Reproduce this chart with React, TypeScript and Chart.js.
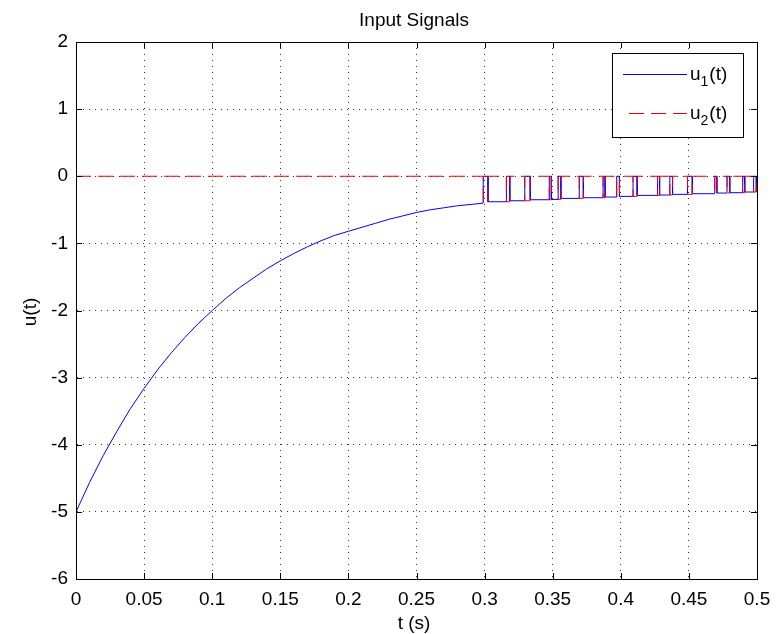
import React, { useEffect, useRef } from "react";
import { Chart, registerables } from "chart.js";

Chart.register(...registerables);

const FONT = '"Liberation Sans", Arial, sans-serif';

const xTickValues = [0, 0.05, 0.1, 0.15, 0.2, 0.25, 0.3, 0.35, 0.4, 0.45, 0.5];
const xTickLabels = ["0", "0.05", "0.1", "0.15", "0.2", "0.25", "0.3", "0.35", "0.4", "0.45", "0.5"];
const yTickValues = [-6, -5, -4, -3, -2, -1, 0, 1, 2];
const yTickLabels = ["-6", "-5", "-4", "-3", "-2", "-1", "0", "1", "2"];

// smooth part of u1(t)
const curveT = [0, 0.01, 0.02, 0.03, 0.04, 0.05, 0.06, 0.07, 0.08, 0.09, 0.1, 0.11, 0.12, 0.13, 0.14, 0.15, 0.16, 0.17, 0.18, 0.19, 0.2, 0.21, 0.22, 0.23, 0.24, 0.25, 0.26, 0.27, 0.28, 0.29];
const curveU1 = [-5.0, -4.56, -4.16, -3.8, -3.46, -3.16, -2.88, -2.63, -2.4, -2.19, -2.0, -1.82, -1.66, -1.52, -1.38, -1.26, -1.15, -1.05, -0.96, -0.88, -0.82, -0.76, -0.7, -0.64, -0.59, -0.54, -0.5, -0.47, -0.44, -0.42];

// switching part (t >= 0.3)
const pulseStart = [0.299, 0.316, 0.3295, 0.3475, 0.354, 0.3695, 0.387, 0.397, 0.409, 0.427, 0.436, 0.449, 0.469, 0.478, 0.4895, 0.4975];
const pulseEnd = [0.3025, 0.3185, 0.3335, 0.349, 0.356, 0.3725, 0.3885, 0.399, 0.412, 0.4285, 0.438, 0.4525, 0.4705, 0.48, 0.491, 0.4995];
const baseLevel = [-0.4, -0.38, -0.365, -0.35, -0.345, -0.33, -0.32, -0.31, -0.3, -0.285, -0.28, -0.27, -0.26, -0.25, -0.245, -0.235, -0.23];
const u2Level = 0;
const tEnd = 0.5;

function buildU1() {
  const pts: { x: number; y: number }[] = curveT.map((t, i) => ({ x: t, y: curveU1[i] }));
  pulseStart.forEach((s, i) => {
    pts.push({ x: s, y: baseLevel[i] });
    pts.push({ x: s, y: u2Level });
    pts.push({ x: pulseEnd[i], y: u2Level });
    pts.push({ x: pulseEnd[i], y: baseLevel[i + 1] });
  });
  pts.push({ x: tEnd, y: baseLevel[baseLevel.length - 1] });
  return pts;
}

function buildU2() {
  const pts: { x: number; y: number }[] = [{ x: 0, y: u2Level }];
  pulseStart.forEach((s, i) => {
    pts.push({ x: s, y: u2Level });
    pts.push({ x: s, y: baseLevel[i] });
    pts.push({ x: pulseEnd[i], y: baseLevel[i] });
    pts.push({ x: pulseEnd[i], y: u2Level });
  });
  pts.push({ x: tEnd, y: u2Level });
  return pts;
}

const decorPlugin = {
  id: "matlabDecor",
  beforeDraw(chart: any) {
    const ctx = chart.ctx;
    ctx.save();
    ctx.fillStyle = "#ffffff";
    ctx.fillRect(0, 0, chart.width, chart.height);
    ctx.restore();
  },
  afterDraw(chart: any) {
    const ctx = chart.ctx;
    const { left, right, top, bottom } = chart.chartArea;
    const xs = chart.scales.x;
    const ys = chart.scales.y;
    ctx.save();
    // box
    ctx.strokeStyle = "#000";
    ctx.lineWidth = 1;
    ctx.setLineDash([]);
    ctx.strokeRect(Math.round(left) + 0.5, Math.round(top) + 0.5, Math.round(right - left), Math.round(bottom - top));
    // inward ticks
    const tl = 6;
    ctx.beginPath();
    xTickValues.forEach((v) => {
      const px = Math.round(xs.getPixelForValue(v)) + 0.5;
      ctx.moveTo(px, bottom);
      ctx.lineTo(px, bottom - tl);
      ctx.moveTo(px, top);
      ctx.lineTo(px, top + tl);
    });
    yTickValues.forEach((v) => {
      const py = Math.round(ys.getPixelForValue(v)) + 0.5;
      ctx.moveTo(left, py);
      ctx.lineTo(left + tl, py);
      ctx.moveTo(right, py);
      ctx.lineTo(right - tl, py);
    });
    ctx.stroke();

    // title and axis labels
    ctx.fillStyle = "#000";
    ctx.font = `19px ${FONT}`;
    ctx.textAlign = "center";
    ctx.textBaseline = "alphabetic";
    ctx.fillText("Input Signals", 414, 26);
    ctx.fillText("t (s)", 414, 629);
    ctx.save();
    ctx.translate(31, 312);
    ctx.rotate(-Math.PI / 2);
    ctx.textBaseline = "middle";
    ctx.fillText("u(t)", 0, 0);
    ctx.restore();

    // legend
    const lx = 612, ly = 53, lw = 131, lh = 84;
    ctx.fillStyle = "#fff";
    ctx.fillRect(lx, ly, lw, lh);
    ctx.strokeStyle = "#000";
    ctx.strokeRect(lx + 0.5, ly + 0.5, lw, lh);
    const ds = chart.data.datasets;
    const entries = [
      { ds: ds[1], sub: "1", y: 74, x0: 623 },
      { ds: ds[0], sub: "2", y: 113, x0: 629 },
    ];
    entries.forEach((e) => {
      ctx.beginPath();
      ctx.strokeStyle = e.ds.borderColor;
      ctx.lineWidth = 1;
      ctx.setLineDash(e.ds.borderDash || []);
      ctx.moveTo(e.x0, e.y + 0.5);
      ctx.lineTo(687, e.y + 0.5);
      ctx.stroke();
      ctx.setLineDash([]);
      ctx.fillStyle = "#000";
      ctx.textAlign = "left";
      ctx.textBaseline = "alphabetic";
      ctx.font = `19px ${FONT}`;
      let x = 690;
      const base = e.y + 6;
      ctx.fillText("u", x, base);
      x += ctx.measureText("u").width;
      ctx.font = `14px ${FONT}`;
      ctx.fillText(e.sub, x, base + 6);
      x += ctx.measureText(e.sub).width + 1;
      ctx.font = `19px ${FONT}`;
      ctx.fillText("(t)", x, base);
    });
    ctx.restore();
  },
};

export default function App() {
  const canvasRef = useRef<HTMLCanvasElement | null>(null);

  useEffect(() => {
    const canvas = canvasRef.current;
    if (!canvas) return;
    const tickFont = { family: FONT, size: 19 };
    const chart = new Chart(canvas, {
      type: "scatter",
      data: {
        datasets: [
          {
            label: "u2(t)",
            data: buildU2(),
            showLine: true,
            borderColor: "#ee0000",
            backgroundColor: "#ee0000",
            borderWidth: 1,
            borderDash: [15, 7],
            pointRadius: 0,
            tension: 0,
            order: 0,
          },
          {
            label: "u1(t)",
            data: buildU1(),
            showLine: true,
            borderColor: "#0000ff",
            backgroundColor: "#0000ff",
            borderWidth: 1,
            pointRadius: 0,
            tension: 0,
            order: 1,
          },
        ],
      },
      options: {
        responsive: false,
        animation: false,
        devicePixelRatio: 1,
        layout: { padding: { top: 42, right: 26, left: 0, bottom: 0 } },
        plugins: {
          legend: { display: false },
          title: { display: false },
          tooltip: { enabled: false },
        },
        scales: {
          x: {
            type: "linear",
            min: 0,
            max: 0.5,
            afterBuildTicks: (s: any) => {
              s.ticks = xTickValues.map((v) => ({ value: v }));
            },
            afterFit: (s: any) => {
              s.height = 55;
            },
            ticks: {
              callback: (_v: any, i: number) => xTickLabels[i],
              font: tickFont,
              color: "#000",
              padding: 9,
              maxRotation: 0,
              autoSkip: false,
            },
            grid: { color: "rgba(0,0,0,0.8)", lineWidth: 1, drawTicks: false },
            border: { display: true, color: "#000", width: 1, dash: [1, 5] },
          },
          y: {
            type: "linear",
            min: -6,
            max: 2,
            afterBuildTicks: (s: any) => {
              s.ticks = yTickValues.map((v) => ({ value: v }));
            },
            afterFit: (s: any) => {
              s.width = 76;
            },
            ticks: {
              callback: (_v: any, i: number) => yTickLabels[i],
              font: tickFont,
              color: "#000",
              padding: 8,
              autoSkip: false,
            },
            grid: { color: "rgba(0,0,0,0.8)", lineWidth: 1, drawTicks: false },
            border: { display: true, color: "#000", width: 1, dash: [1, 5] },
          },
        },
      },
      plugins: [decorPlugin],
    } as any);
    return () => chart.destroy();
  }, []);

  return (
    <div style={{ position: "absolute", left: 0, top: 0, width: 783, height: 634, background: "#fff" }}>
      <canvas ref={canvasRef} width={783} height={634} style={{ display: "block" }} />
    </div>
  );
}
